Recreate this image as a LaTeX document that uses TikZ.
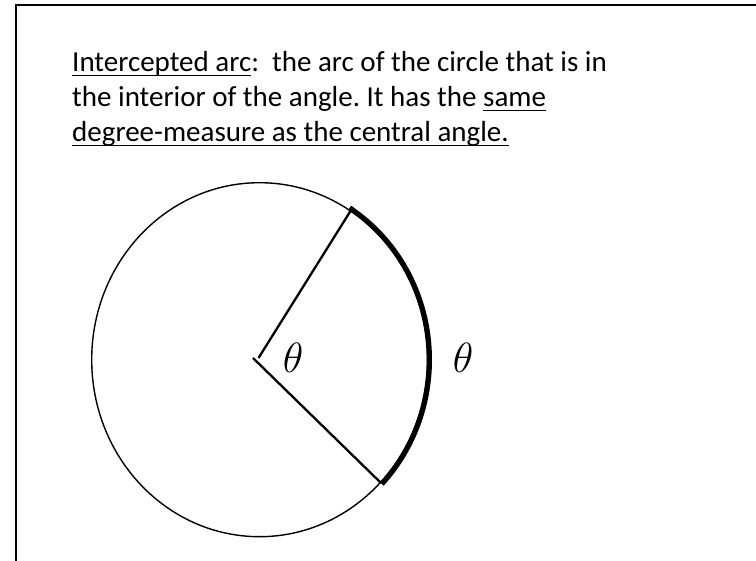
\documentclass[tikz,border=0pt]{standalone}
\usepackage{fontspec}
\setmainfont{Carlito}
\newsavebox{\ulbox}
\newcommand{\myul}[1]{\sbox{\ulbox}{#1}\rlap{\rule[-4.5pt]{\wd\ulbox}{1.6pt}}\usebox{\ulbox}}
\frenchspacing
\tikzset{
  txt/.style={anchor=base west, inner sep=0pt, font=\fontsize{29}{35}\selectfont},
  lbl/.style={inner sep=0pt, scale=1.7, font=\Huge},
  frame/.style={line width=2pt},
  thin/.style={line width=1.4pt},
  radius/.style={line width=2.3pt},
  heavy/.style={line width=5pt}
}
\begin{document}
\begin{tikzpicture}[x=1pt,y=-1pt]
\useasboundingbox (0,0) rectangle (756,561);
% frame
\draw[frame] (757,5) -- (16,5) -- (16,562);
% text
\node[txt] (l1) at (72,72) {\myul{Intercepted arc}:\ \ the arc of the circle that is in};
\node[txt] (l2) at (72,107) {the interior of the angle. It has the \myul{same}};
\node[txt] (l3) at (72,142) {\myul{degree-measure as the central angle.}};
% circle
\coordinate (C) at (259.5,359.7);
\draw[thin] (C) ellipse [x radius=167.8, y radius=177];
% intercepted arc
\draw[heavy] (C) ++(-58:170 and 179) arc [start angle=-58, end angle=44, x radius=170, y radius=179];
% radii
\coordinate (O1) at (258.5,358);
\coordinate (O2) at (253,358);
\coordinate (A) at (353,207);
\coordinate (B) at (381,483);
\draw[radius] (A) -- (O1);
\draw[radius] (O2) -- (B);
% labels
\node[lbl] (t1) at (293,358) {$\theta$};
\node[lbl] (t2) at (463,358) {$\theta$};
\end{tikzpicture}
\end{document}
